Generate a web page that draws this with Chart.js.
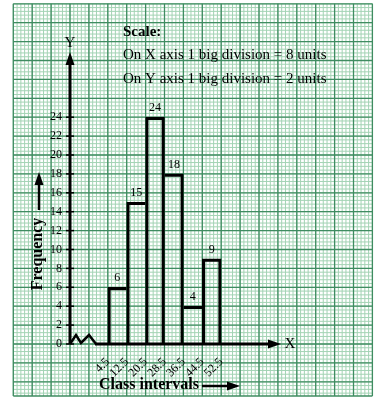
<!DOCTYPE html>
<html>
<head>
<meta charset="utf-8">
<title>Histogram</title>
<script src="https://cdn.jsdelivr.net/npm/chart.js@4.4.0/dist/chart.umd.min.js"></script>
<style>
  body { margin: 0; background: #fff; }
  canvas { display: block; }
</style>
</head>
<body>
<canvas id="myChart" width="390" height="408"></canvas>
<script>
/* data */
const classEdges = [4.5, 12.5, 20.5, 28.5, 36.5, 44.5, 52.5];
const frequency = [6, 15, 24, 18, 4, 9];
const yTicks = [0, 2, 4, 6, 8, 10, 12, 14, 16, 18, 20, 22, 24];
const scaleTitle = 'Scale:';
const scaleNotes = ['On X axis 1 big division = 8 units', 'On Y axis 1 big division = 2 units'];

const classWidth = 8;
const xMin = classEdges[0] - 2 * classWidth; // room for the axis break
const xMax = xMin + 16 * classWidth;
const SERIF = "'Liberation Serif', 'Times New Roman', serif";

const bars = frequency.map((f, i) => ({ x: (classEdges[i] + classEdges[i + 1]) / 2, y: f }));

/* graph paper behind everything */
const graphPaper = {
    id: 'graphPaper',
    beforeDraw(chart) {
        const { ctx, scales: { x, y } } = chart;
        const x0 = x.getPixelForValue(xMin);
        const y0 = y.getPixelForValue(0);
        const bigX = x.getPixelForValue(xMin + classWidth) - x0;
        const bigY = y0 - y.getPixelForValue(2);
        const left = x0 - 3 * bigX, right = x0 + 16 * bigX;
        const top = y0 - 18 * bigY, bottom = y0 + 2.75 * bigY;

        ctx.save();
        ctx.fillStyle = '#fff';
        ctx.fillRect(0, 0, chart.width, chart.height);

        function vline(px) { ctx.beginPath(); ctx.moveTo(px, top); ctx.lineTo(px, bottom); ctx.stroke(); }
        function hline(py) { ctx.beginPath(); ctx.moveTo(left, py); ctx.lineTo(right, py); ctx.stroke(); }

        ctx.strokeStyle = '#a3d3b4';
        ctx.lineWidth = 1;
        for (let k = -15; k <= 80; k++) vline(x0 + k * bigX / 5);
        for (let k = -13; k <= 90; k++) { const py = y0 - k * bigY / 5; if (py >= top - 0.1) hline(py); }

        ctx.strokeStyle = '#3f8c61';
        ctx.lineWidth = 1.3;
        for (let k = -3; k <= 16; k++) vline(x0 + k * bigX);
        for (let k = -2; k <= 18; k++) hline(y0 - k * bigY);
        hline(bottom);
        ctx.restore();
    }
};

/* axes, arrows and labels */
const annotations = {
    id: 'annotations',
    afterDraw(chart) {
        const { ctx, scales: { x, y } } = chart;
        const ox = x.getPixelForValue(xMin), oy = y.getPixelForValue(0);
        ctx.save();
        ctx.strokeStyle = '#000';
        ctx.fillStyle = '#000';

        function arrowHead(tx, ty, dir) {
            ctx.beginPath();
            if (dir === 'up') { ctx.moveTo(tx, ty); ctx.lineTo(tx - 4.5, ty + 13); ctx.lineTo(tx + 4.5, ty + 13); }
            else { ctx.moveTo(tx, ty); ctx.lineTo(tx - 13, ty - 4.5); ctx.lineTo(tx - 13, ty + 4.5); }
            ctx.closePath();
            ctx.fill();
        }

        // y axis
        ctx.lineWidth = 3;
        ctx.beginPath(); ctx.moveTo(ox, oy); ctx.lineTo(ox, 62); ctx.stroke();
        arrowHead(ox, 52, 'up');

        // y tick marks
        ctx.lineWidth = 1.5;
        y.ticks.forEach(t => {
            const py = y.getPixelForValue(t.value);
            ctx.beginPath(); ctx.moveTo(ox - 4, py); ctx.lineTo(ox + 4, py); ctx.stroke();
        });

        // axis break
        ctx.lineWidth = 2.5;
        ctx.lineJoin = 'miter';
        ctx.beginPath();
        ctx.moveTo(ox, oy);
        ctx.lineTo(ox + 6, oy - 9);
        ctx.lineTo(ox + 11, oy - 1);
        ctx.lineTo(ox + 19, oy - 9);
        ctx.lineTo(ox + 26, oy);
        ctx.stroke();

        // x axis
        ctx.lineWidth = 3;
        ctx.beginPath(); ctx.moveTo(ox + 25, oy); ctx.lineTo(271, oy); ctx.stroke();
        arrowHead(281, oy, 'right');

        ctx.font = '15px ' + SERIF;
        ctx.textAlign = 'center';
        ctx.textBaseline = 'middle';
        ctx.fillText('Y', ox, 43);
        ctx.fillText('X', 290, oy);

        // bar values
        ctx.font = '12px ' + SERIF;
        ctx.textBaseline = 'bottom';
        chart.getDatasetMeta(0).data.forEach((bar, i) => {
            ctx.fillText(frequency[i], bar.x, bar.y - 3);
        });

        // scale note
        ctx.textAlign = 'left';
        ctx.textBaseline = 'middle';
        ctx.font = 'bold 15px ' + SERIF;
        ctx.fillText(scaleTitle, 123, 32);
        ctx.font = '15px ' + SERIF;
        ctx.fillText(scaleNotes[0], 123, 55);
        ctx.fillText(scaleNotes[1], 123, 79);

        // axis titles
        ctx.font = 'bold 16px ' + SERIF;
        ctx.fillText('Class intervals', 99, 385);
        ctx.lineWidth = 2.5;
        ctx.beginPath(); ctx.moveTo(202, 386); ctx.lineTo(230, 386); ctx.stroke();
        arrowHead(240, 386, 'right');

        ctx.save();
        ctx.translate(38, 254);
        ctx.rotate(-Math.PI / 2);
        ctx.textAlign = 'center';
        ctx.fillText('Frequency', 0, 0);
        ctx.restore();
        ctx.beginPath(); ctx.moveTo(39, 210); ctx.lineTo(39, 182); ctx.stroke();
        arrowHead(39, 172, 'up');

        ctx.restore();
    }
};

const ctx = document.getElementById('myChart').getContext('2d');
const myChart = new Chart(ctx, {
    type: 'bar',
    data: {
        datasets: [{
            label: 'Frequency',
            data: bars,
            barPercentage: 1,
            categoryPercentage: 1,
            backgroundColor: 'rgba(0,0,0,0)',
            borderColor: '#000',
            clip: false,
            borderWidth: function (c) {
                const w = 2.5;
                if (c.type !== 'data') return w;
                const i = c.dataIndex;
                const f = frequency[i];
                return {
                    top: w,
                    left: (i === 0 || frequency[i - 1] < f) ? w : 0,
                    right: (i === frequency.length - 1 || frequency[i + 1] <= f) ? w : 0,
                    bottom: 0
                };
            }
        }]
    },
    options: {
        responsive: false,
        animation: false,
        devicePixelRatio: 1,
        layout: { autoPadding: false, padding: { top: 117.2, right: 17.6, left: 0, bottom: 0 } },
        plugins: {
            legend: { display: false },
            tooltip: { enabled: false }
        },
        scales: {
            x: {
                type: 'linear',
                offset: false,
                min: xMin,
                max: xMax,
                grid: { display: false, offset: false },
                border: { display: false },
                afterBuildTicks: s => { s.ticks = classEdges.map(v => ({ value: v })); },
                afterFit: s => { s.height = 64; },
                ticks: {
                    autoSkip: false,
                    minRotation: 45,
                    maxRotation: 45,
                    padding: 3,
                    color: '#000',
                    font: { family: SERIF, size: 12 },
                    callback: v => String(v)
                }
            },
            y: {
                min: 0,
                max: 24,
                grid: { display: false },
                border: { display: false },
                afterBuildTicks: s => { s.ticks = yTicks.map(v => ({ value: v })); },
                afterFit: s => { s.width = 70; },
                ticks: {
                    padding: 0,
                    color: '#000',
                    font: { family: SERIF, size: 12 }
                }
            }
        }
    },
    plugins: [graphPaper, annotations]
});
</script>
</body>
</html>
